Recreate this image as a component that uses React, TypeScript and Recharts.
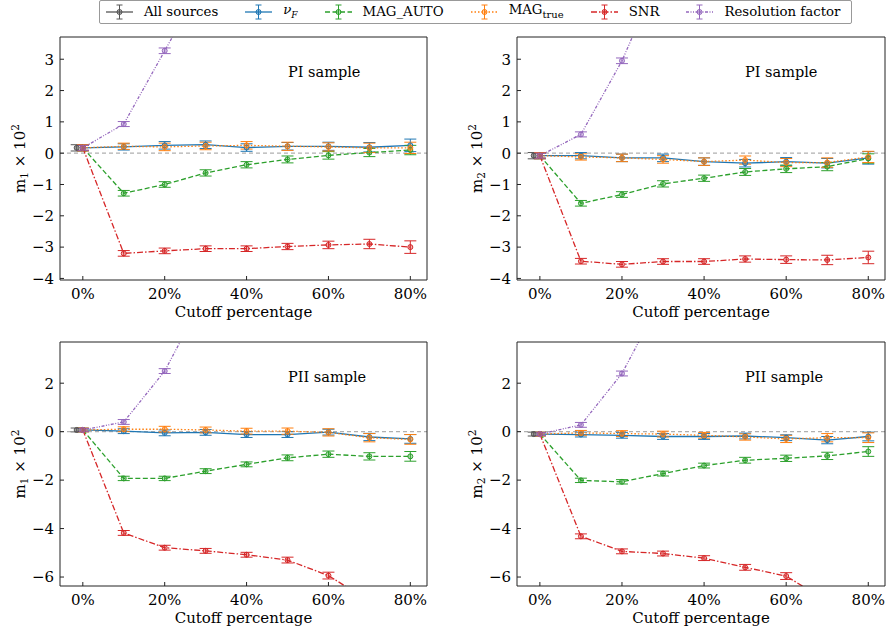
import React from "react";
import { LineChart, Line, XAxis, YAxis, ErrorBar, ReferenceLine } from "recharts";

const FONT = "'DejaVu Serif', serif";

const cutoffs = [0, 10, 20, 30, 40, 50, 60, 70, 80];
const allSourcesX = -1.5;
const xTicks = [0, 20, 40, 60, 80];
const topYTicks = [-4, -3, -2, -1, 0, 1, 2, 3];
const bottomYTicks = [-6, -4, -2, 0, 2];

// PI sample, m1
const piM1All = 0.17;
const piM1NuF = [0.17, 0.2, 0.25, 0.27, 0.18, 0.22, 0.22, 0.19, 0.25];
const piM1MagAuto = [0.17, -1.28, -1.0, -0.63, -0.37, -0.2, -0.07, 0.02, 0.1];
const piM1MagTrue = [0.17, 0.22, 0.2, 0.23, 0.25, 0.22, 0.2, 0.17, 0.17];
const piM1Snr = [0.17, -3.2, -3.12, -3.05, -3.05, -2.98, -2.93, -2.9, -3.0];
const piM1Res = [0.17, 0.93, 3.27, 5.6];

// PI sample, m2
const piM2All = -0.08;
const piM2NuF = [-0.08, -0.08, -0.15, -0.15, -0.27, -0.32, -0.27, -0.32, -0.15];
const piM2MagAuto = [-0.08, -1.6, -1.32, -0.98, -0.8, -0.6, -0.5, -0.43, -0.17];
const piM2MagTrue = [-0.08, -0.12, -0.15, -0.2, -0.27, -0.22, -0.3, -0.3, -0.12];
const piM2Snr = [-0.08, -3.45, -3.55, -3.46, -3.46, -3.38, -3.4, -3.41, -3.33];
const piM2Res = [-0.08, 0.6, 2.95, 5.95];

// PII sample, m1
const piiM1All = 0.07;
const piiM1NuF = [0.07, 0.02, -0.05, -0.03, -0.12, -0.12, -0.02, -0.22, -0.3];
const piiM1MagAuto = [0.07, -1.93, -1.93, -1.63, -1.35, -1.08, -0.93, -1.02, -1.02];
const piiM1MagTrue = [0.07, 0.1, 0.1, 0.07, 0.02, 0.02, -0.03, -0.25, -0.32];
const piiM1Snr = [0.07, -4.18, -4.79, -4.92, -5.08, -5.3, -5.94, -7.0];
const piiM1Res = [0.07, 0.4, 2.5, 5.7];

// PII sample, m2
const piiM2All = -0.1;
const piiM2NuF = [-0.1, -0.12, -0.15, -0.2, -0.2, -0.18, -0.25, -0.35, -0.2];
const piiM2MagAuto = [-0.1, -2.01, -2.07, -1.73, -1.4, -1.18, -1.1, -1.0, -0.82];
const piiM2MagTrue = [-0.1, -0.05, -0.08, -0.1, -0.15, -0.22, -0.3, -0.25, -0.25];
const piiM2Snr = [-0.1, -4.32, -4.94, -5.03, -5.22, -5.6, -5.96, -7.0];
const piiM2Res = [-0.1, 0.28, 2.4, 5.6];

// error bars (half widths); points beyond the axes carry none
const piErrAll = 0.1;
const piErrNuF = [0.1, 0.1, 0.12, 0.12, 0.12, 0.12, 0.13, 0.15, 0.2];
const piErrMagAuto = [0.08, 0.09, 0.09, 0.1, 0.1, 0.11, 0.12, 0.13, 0.15];
const piErrMagTrue = [0.1, 0.1, 0.12, 0.12, 0.12, 0.13, 0.13, 0.15, 0.18];
const piErrSnr = [0.08, 0.09, 0.09, 0.09, 0.09, 0.1, 0.12, 0.15, 0.2];
const piErrRes = [0.08, 0.08, 0.09];

const piiErrAll = 0.08;
const piiErrNuF = [0.08, 0.1, 0.12, 0.12, 0.12, 0.12, 0.12, 0.15, 0.18];
const piiErrMagAuto = [0.06, 0.09, 0.09, 0.1, 0.1, 0.12, 0.13, 0.15, 0.2];
const piiErrMagTrue = [0.08, 0.1, 0.12, 0.12, 0.12, 0.13, 0.15, 0.17, 0.2];
const piiErrSnr = [0.06, 0.1, 0.1, 0.1, 0.1, 0.12, 0.14];
const piiErrRes = [0.06, 0.1, 0.1];

const styles = [
  { key: "nuF", color: "#1f77b4", dash: undefined },
  { key: "magAuto", color: "#2ca02c", dash: "5 2.5" },
  { key: "magTrue", color: "#ff7f0e", dash: "1.5 2" },
  { key: "snr", color: "#d62728", dash: "6 2 1.5 2" },
  { key: "res", color: "#9467bd", dash: "3 1.5 1 1.5 1 1.5" },
];
const allColor = "#555555";

const xPad = (80 - allSourcesX) * 0.05;
const xDomain = [allSourcesX - xPad, 80 + xPad];

const fmtY = (v: number) => (v < 0 ? "\u2212" + Math.abs(v) : String(v));

function rows(vals: number[], errs: number[]) {
  return vals.map((y, i) => ({ x: cutoffs[i], y, e: errs[i] }));
}

function Panel(props: any) {
  const { left, top, width, height, margin, yDomain, yTicks, moment, sample, values, errs, all, allErr } = props;
  const tickStyle = { fontSize: 15, fontFamily: FONT, fill: "#000" };
  const axisLine = { stroke: "#222", strokeWidth: 1 };
  const tickLine = { stroke: "#222", strokeWidth: 1 };
  return (
    <div style={{ position: "absolute", left, top, width, height }}>
      <LineChart width={width} height={height} margin={margin}>
        <XAxis
          xAxisId="b"
          type="number"
          dataKey="x"
          domain={xDomain}
          ticks={xTicks}
          allowDataOverflow
          tickFormatter={(v) => `${v}%`}
          tick={tickStyle}
          tickSize={-4}
          tickMargin={12}
          axisLine={axisLine}
          tickLine={tickLine}
          height={40}
          label={{
            content: ({ viewBox }: any) => (
              <text x={viewBox.x + viewBox.width / 2} y={viewBox.y + 37} textAnchor="middle" fontFamily={FONT} fontSize={15}>
                Cutoff percentage
              </text>
            ),
          }}
        />
        <XAxis
          xAxisId="t"
          orientation="top"
          type="number"
          dataKey="x"
          domain={xDomain}
          ticks={xTicks}
          allowDataOverflow
          tick={false}
          tickSize={-4}
          axisLine={axisLine}
          tickLine={tickLine}
          height={1}
        />
        <YAxis
          yAxisId="l"
          type="number"
          domain={yDomain}
          ticks={yTicks}
          allowDataOverflow
          tickFormatter={fmtY}
          tick={tickStyle}
          tickSize={-4}
          tickMargin={10}
          axisLine={axisLine}
          tickLine={tickLine}
          width={60}
          label={{
            content: ({ viewBox }: any) => {
              const cx = viewBox.x + viewBox.width - 35;
              const cy = viewBox.y + viewBox.height / 2;
              return (
                <text transform={`translate(${cx},${cy}) rotate(-90)`} textAnchor="middle" fontFamily={FONT} fontSize={15}>
                  m<tspan fontSize={10.5} dy={3}>{moment}</tspan>
                  <tspan dy={-3}> × 10</tspan>
                  <tspan fontSize={10.5} dy={-6}>2</tspan>
                </text>
              );
            },
          }}
        />
        <YAxis
          yAxisId="r"
          orientation="right"
          type="number"
          domain={yDomain}
          ticks={yTicks}
          allowDataOverflow
          tick={false}
          tickSize={-4}
          axisLine={axisLine}
          tickLine={tickLine}
          width={1}
        />
        <ReferenceLine xAxisId="b" yAxisId="l" y={0} stroke="#b0b0b0" strokeWidth={1.2} strokeDasharray="4 3" />
        <Line
          xAxisId="b"
          yAxisId="l"
          data={[{ x: allSourcesX, y: all, e: allErr }]}
          dataKey="y"
          stroke={allColor}
          strokeWidth={1.3}
          dot={{ r: 2.5, stroke: allColor, strokeWidth: 1, fill: allColor, fillOpacity: 0.6 }}
          isAnimationActive={false}
        >
          <ErrorBar dataKey="e" width={6} stroke={allColor} strokeWidth={1} direction="y" />
        </Line>
        {styles.map((s) => (
          <Line
            key={s.key}
            xAxisId="b"
            yAxisId="l"
            data={rows(values[s.key], errs[s.key])}
            dataKey="y"
            stroke={s.color}
            strokeWidth={1.3}
            strokeDasharray={s.dash}
            dot={{ r: 2.5, stroke: s.color, strokeWidth: 1, fill: s.color, fillOpacity: 0.35, strokeDasharray: "" }}
            isAnimationActive={false}
          >
            <ErrorBar dataKey="e" width={6} stroke={s.color} strokeWidth={1} direction="y" />
          </Line>
        ))}
      </LineChart>
      <div
        style={{
          position: "absolute",
          left: props.plotLeft + 228,
          top: props.plotTop + 27,
          fontFamily: FONT,
          fontSize: 14.5,
          lineHeight: "17px",
          whiteSpace: "nowrap",
        }}
      >
        {sample} sample
      </div>
    </div>
  );
}

function LegendSample({ color, dash }: { color: string; dash?: string }) {
  return (
    <svg width={27} height={22} style={{ display: "block" }}>
      <line x1={0} y1={11} x2={27} y2={11} stroke={color} strokeWidth={1.3} strokeDasharray={dash} />
      <line x1={13.5} y1={4} x2={13.5} y2={18} stroke={color} strokeWidth={1} />
      <line x1={10.5} y1={4} x2={16.5} y2={4} stroke={color} strokeWidth={1} />
      <line x1={10.5} y1={18} x2={16.5} y2={18} stroke={color} strokeWidth={1} />
      <circle cx={13.5} cy={11} r={2.5} stroke={color} strokeWidth={1} fill={color} fillOpacity={0.35} />
    </svg>
  );
}

const legendItems = [
  { label: <span>All sources</span>, color: allColor, dash: undefined },
  { label: <i>ν<sub style={{ fontSize: 9 }}>F</sub></i>, color: styles[0].color, dash: styles[0].dash },
  { label: <span>MAG_AUTO</span>, color: styles[1].color, dash: styles[1].dash },
  { label: <span>MAG<sub style={{ fontSize: 10 }}>true</sub></span>, color: styles[2].color, dash: styles[2].dash },
  { label: <span>SNR</span>, color: styles[3].color, dash: styles[3].dash },
  { label: <span>Resolution factor</span>, color: styles[4].color, dash: styles[4].dash },
];

export default function App() {
  const piErrs = { nuF: piErrNuF, magAuto: piErrMagAuto, magTrue: piErrMagTrue, snr: piErrSnr, res: piErrRes };
  const piiErrs = { nuF: piiErrNuF, magAuto: piiErrMagAuto, magTrue: piiErrMagTrue, snr: piiErrSnr, res: piiErrRes };
  const topDomain = [-4.05, 3.71];
  const bottomDomain = [-6.37, 3.7];
  return (
    <div style={{ position: "absolute", left: 0, top: 0, width: 888, height: 635, background: "#fff", overflow: "hidden" }}>
      <div
        style={{
          position: "absolute",
          left: 99,
          top: 0,
          width: 753,
          height: 24,
          border: "1px solid #999",
          borderRadius: 2,
          display: "flex",
          alignItems: "center",
          paddingLeft: 6,
          boxSizing: "border-box",
          fontFamily: FONT,
          fontSize: 13.3,
          background: "#fff",
          zIndex: 2,
        }}
      >
        {legendItems.map((it, i) => (
          <div key={i} style={{ display: "flex", alignItems: "center", marginRight: 27, whiteSpace: "nowrap" }}>
            <LegendSample color={it.color} dash={it.dash} />
            <span style={{ marginLeft: 11, lineHeight: "16px" }}>{it.label}</span>
          </div>
        ))}
      </div>
      <Panel
        left={0} top={0} width={440} height={325}
        margin={{ top: 36, left: 0, right: 12, bottom: 5 }}
        plotLeft={60} plotTop={37}
        yDomain={topDomain} yTicks={topYTicks} moment="1" sample="PI"
        values={{ nuF: piM1NuF, magAuto: piM1MagAuto, magTrue: piM1MagTrue, snr: piM1Snr, res: piM1Res }}
        errs={piErrs} all={piM1All} allErr={piErrAll}
      />
      <Panel
        left={444} top={0} width={444} height={325}
        margin={{ top: 36, left: 13, right: 2, bottom: 5 }}
        plotLeft={73} plotTop={37}
        yDomain={topDomain} yTicks={topYTicks} moment="2" sample="PI"
        values={{ nuF: piM2NuF, magAuto: piM2MagAuto, magTrue: piM2MagTrue, snr: piM2Snr, res: piM2Res }}
        errs={piErrs} all={piM2All} allErr={piErrAll}
      />
      <Panel
        left={0} top={320} width={440} height={315}
        margin={{ top: 21, left: 0, right: 12, bottom: 9 }}
        plotLeft={60} plotTop={22}
        yDomain={bottomDomain} yTicks={bottomYTicks} moment="1" sample="PII"
        values={{ nuF: piiM1NuF, magAuto: piiM1MagAuto, magTrue: piiM1MagTrue, snr: piiM1Snr, res: piiM1Res }}
        errs={piiErrs} all={piiM1All} allErr={piiErrAll}
      />
      <Panel
        left={444} top={320} width={444} height={315}
        margin={{ top: 21, left: 13, right: 2, bottom: 9 }}
        plotLeft={73} plotTop={22}
        yDomain={bottomDomain} yTicks={bottomYTicks} moment="2" sample="PII"
        values={{ nuF: piiM2NuF, magAuto: piiM2MagAuto, magTrue: piiM2MagTrue, snr: piiM2Snr, res: piiM2Res }}
        errs={piiErrs} all={piiM2All} allErr={piiErrAll}
      />
    </div>
  );
}
